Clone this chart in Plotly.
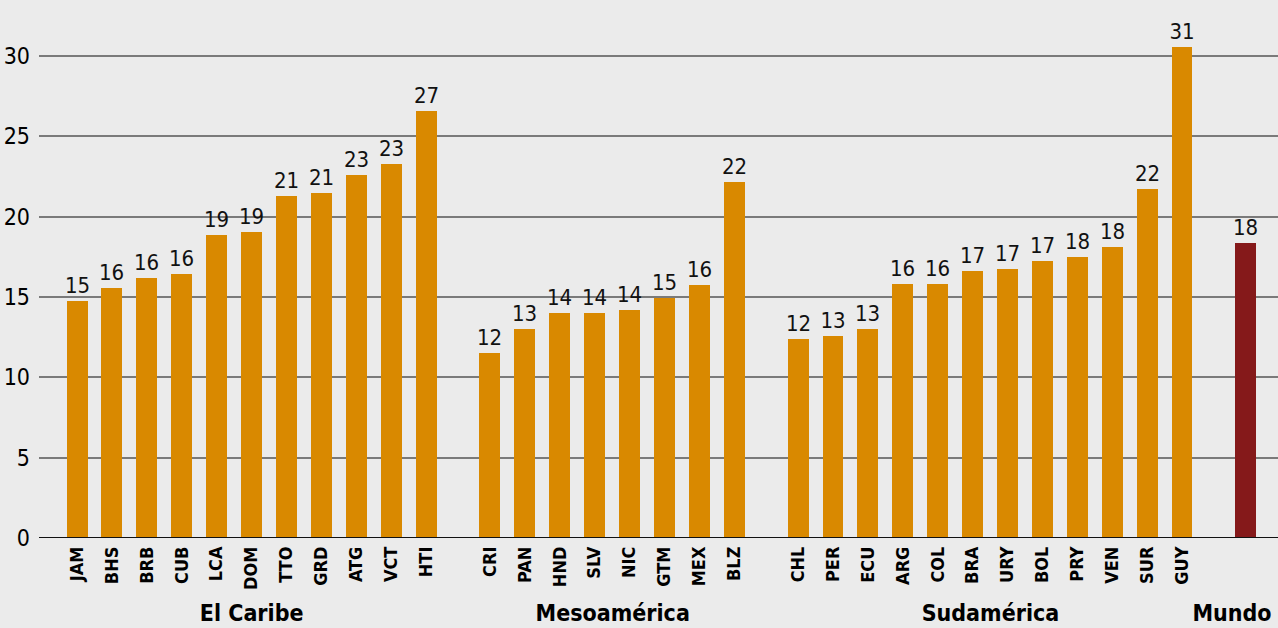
import plotly.graph_objects as go

# data
caribe = ['JAM', 'BHS', 'BRB', 'CUB', 'LCA', 'DOM', 'TTO', 'GRD', 'ATG', 'VCT', 'HTI']
caribe_vals = [14.75, 15.55, 16.2, 16.4, 18.85, 19.05, 21.3, 21.45, 22.6, 23.25, 26.55]
meso = ['CRI', 'PAN', 'HND', 'SLV', 'NIC', 'GTM', 'MEX', 'BLZ']
meso_vals = [11.5, 13.0, 14.0, 14.0, 14.2, 14.95, 15.75, 22.15]
sud = ['CHL', 'PER', 'ECU', 'ARG', 'COL', 'BRA', 'URY', 'BOL', 'PRY', 'VEN', 'SUR', 'GUY']
sud_vals = [12.4, 12.6, 13.0, 15.8, 15.8, 16.6, 16.75, 17.25, 17.5, 18.1, 21.7, 30.55]
mundo_val = 18.35
group_names = ['El Caribe', 'Mesoamérica', 'Sudamérica', 'Mundo']

ORANGE = '#d98900'
DARKRED = '#85191a'
BG = '#ebebeb'
FONT = 'DejaVu Sans, sans-serif'
GAP = 1.83  # spacing between groups, in bar slots

# x positions: consecutive slots, with a gap between groups
groups = [(caribe, caribe_vals), (meso, meso_vals), (sud, sud_vals), (['Mundo'], [mundo_val])]
xs, labels, vals, colors, centers = [], [], [], [], []
pos = 0.0
for codes, gv in groups:
    start = pos
    for c, v in zip(codes, gv):
        xs.append(pos)
        labels.append('' if c == 'Mundo' else '<b>' + c + '</b>')
        vals.append(v)
        colors.append(DARKRED if c == 'Mundo' else ORANGE)
        pos += 1
    centers.append((start + pos - 1) / 2)
    pos += GAP - 1

fig = go.Figure(go.Bar(
    x=xs, y=vals, width=0.6,
    marker=dict(color=colors, line=dict(width=0)),
    text=[str(round(v)) for v in vals],
    textposition='outside',
    constraintext='none',
    textfont=dict(family=FONT, size=22, color='#111'),
    cliponaxis=False,
))

# darker lines at 10, 20, 30
for yv in [10, 20, 30]:
    fig.add_shape(type='line', xref='paper', yref='y', x0=0, x1=1, y0=yv, y1=yv,
                  line=dict(color='#2a2a2a', width=1.5), layer='below')

for name, cx in zip(group_names, centers):
    if name == 'Mundo':
        # last label sits flush with the right edge
        fig.add_annotation(x=1, y=-0.142, xref='paper', yref='paper', text='<b>' + name + '</b>',
                           showarrow=False, yanchor='middle', xanchor='right',
                           font=dict(family=FONT, size=23, color='#000'))
    else:
        fig.add_annotation(x=cx, y=-0.142, xref='x', yref='paper', text='<b>' + name + '</b>',
                           showarrow=False, yanchor='middle',
                           font=dict(family=FONT, size=23, color='#000'))

fig.update_layout(
    width=1278, height=628,
    paper_bgcolor=BG, plot_bgcolor=BG,
    margin=dict(l=39, r=0, t=10, b=90),
    showlegend=False,
    bargap=0,
    xaxis=dict(range=[-1.09, 34.41], tickmode='array', tickvals=xs, ticktext=labels,
               tickangle=-90, tickfont=dict(family=FONT, size=18, color='#000'),
               showgrid=False, zeroline=False, ticks='', ticklabelstandoff=4),
    yaxis=dict(range=[0, 32.86], tickvals=[0, 5, 10, 15, 20, 25, 30],
               tickfont=dict(family=FONT, size=23, color='#000'),
               gridcolor='#7a7a7a', gridwidth=1.5, zeroline=False,
               showline=False, ticks='', ticklabelstandoff=8),
)
fig.add_shape(type='line', xref='paper', yref='y', x0=0, x1=1, y0=0, y1=0,
              line=dict(color='#111', width=2))

# no page margin, condensed face of DejaVu Sans
css = ("var s=document.createElement('style');"
       "s.textContent='body{margin:0;overflow:hidden} .main-svg text{font-stretch:condensed !important}';"
       "document.head.appendChild(s);")
fig.write_html("out.html", post_script=css, config={'displayModeBar': False})
